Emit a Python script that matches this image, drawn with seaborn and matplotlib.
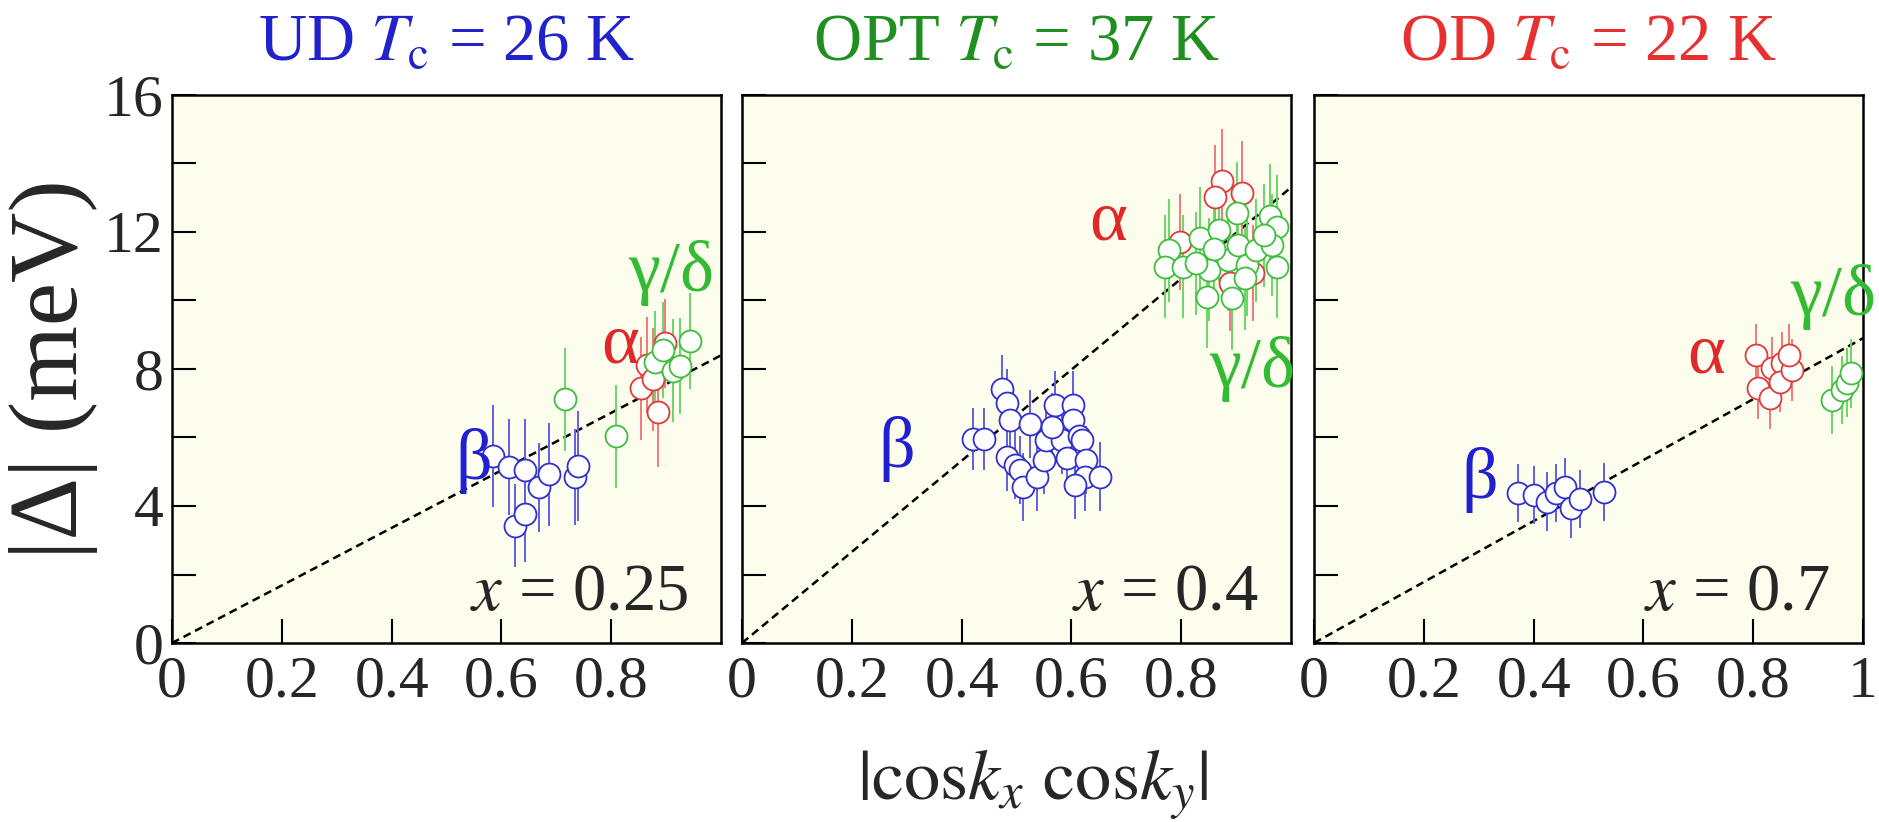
import numpy as np
import pandas as pd
import matplotlib
matplotlib.use('Agg')
import matplotlib.pyplot as plt
import seaborn as sns

# panel data: |cos kx cos ky| vs |gap| (meV)
ud_beta_x = [0.585, 0.613, 0.624, 0.643, 0.643, 0.669, 0.687, 0.734, 0.740]
ud_beta_y = [5.46, 5.13, 3.43, 3.76, 5.05, 4.55, 4.93, 4.84, 5.17]
ud_beta_err = [1.5, 1.4, 1.2, 1.4, 1.5, 1.3, 1.5, 1.4, 1.6]
ud_alpha_x = [0.855, 0.866, 0.876, 0.886, 0.898]
ud_alpha_y = [7.44, 8.12, 7.70, 6.74, 8.75]
ud_alpha_err = [1.5, 1.4, 1.5, 1.6, 1.3]
ud_gd_x = [0.716, 0.809, 0.880, 0.895, 0.912, 0.925, 0.943]
ud_gd_y = [7.12, 6.04, 8.20, 8.55, 7.95, 8.10, 8.83]
ud_gd_err = [1.5, 1.5, 1.5, 1.4, 1.5, 1.4, 1.4]

opt_beta_x = [0.421, 0.440, 0.473, 0.483, 0.488, 0.483, 0.497, 0.506, 0.512, 0.525, 0.538, 0.550, 0.554,
              0.570, 0.582, 0.592, 0.603, 0.603, 0.613, 0.619, 0.627, 0.624, 0.606, 0.652, 0.565]
opt_beta_y = [5.95, 5.95, 7.42, 7.00, 6.50, 5.44, 5.20, 5.05, 4.56, 6.40, 4.86, 5.34, 5.93,
              6.95, 5.93, 5.40, 6.95, 6.50, 6.05, 5.93, 5.34, 4.86, 4.61, 4.86, 6.30]
opt_beta_err = [0.9, 0.9, 1.0, 1.0, 1.0, 1.0, 1.0, 1.0, 1.0, 1.0, 1.0, 1.0, 1.0,
                1.0, 1.0, 1.0, 1.0, 1.0, 1.0, 1.0, 1.0, 1.0, 1.0, 1.0, 1.0]
opt_alpha_x = [0.874, 0.862, 0.910, 0.798, 0.889, 0.930]
opt_alpha_y = [13.50, 13.03, 13.15, 11.72, 10.50, 10.80]
opt_alpha_err = [1.5, 1.5, 1.5, 1.4, 1.4, 1.4]
opt_gd_x = [0.777, 0.771, 0.803, 0.835, 0.850, 0.847, 0.868, 0.901, 0.886, 0.904, 0.892, 0.919, 0.937,
            0.916, 0.962, 0.974, 0.965, 0.974, 0.827, 0.950, 0.860]
opt_gd_y = [11.47, 10.99, 10.99, 11.82, 10.90, 10.11, 12.06, 12.55, 11.18, 11.62, 10.06, 11.04, 11.47,
            10.65, 12.48, 12.15, 11.62, 10.99, 11.09, 11.90, 11.50]
opt_gd_err = [1.5] * 21

od_beta_x = [0.372, 0.400, 0.424, 0.441, 0.457, 0.469, 0.485, 0.528]
od_beta_y = [4.37, 4.32, 4.13, 4.37, 4.56, 3.93, 4.20, 4.40]
od_beta_err = [0.85, 0.85, 0.85, 0.85, 0.85, 0.85, 0.85, 0.85]
od_alpha_x = [0.806, 0.809, 0.831, 0.834, 0.852, 0.849, 0.870, 0.865]
od_alpha_y = [8.41, 7.44, 7.14, 8.02, 8.17, 7.63, 7.97, 8.40]
od_alpha_err = [0.9, 0.9, 0.9, 0.9, 0.9, 0.9, 0.9, 0.9]
od_gd_x = [0.943, 0.961, 0.970, 0.979]
od_gd_y = [7.10, 7.39, 7.60, 7.87]
od_gd_err = [1.0, 1.0, 1.0, 1.0]

slopes = [8.4, 13.3, 8.9]
titles = ['UD $T_{\\rm c}$ = 26 K', 'OPT $T_{\\rm c}$ = 37 K', 'OD $T_{\\rm c}$ = 22 K']
doping_labels = ['$x$ = 0.25', '$x$ = 0.4', '$x$ = 0.7']

sns.set_theme(style='ticks')
plt.rcParams['font.family'] = ['Liberation Serif', 'DejaVu Serif']
plt.rcParams['mathtext.fontset'] = 'stix'

title_colors = ['#2222cc', '#1f8f1f', '#e83030']
beta_c, beta_bar = '#3030cc', '#6060e0'
alpha_c, alpha_bar = '#e03a3a', '#f07a7a'
gd_c, gd_bar = '#3cbf3c', '#6cd46c'

panels = [
    [(ud_beta_x, ud_beta_y, ud_beta_err), (ud_alpha_x, ud_alpha_y, ud_alpha_err), (ud_gd_x, ud_gd_y, ud_gd_err)],
    [(opt_beta_x, opt_beta_y, opt_beta_err), (opt_alpha_x, opt_alpha_y, opt_alpha_err), (opt_gd_x, opt_gd_y, opt_gd_err)],
    [(od_beta_x, od_beta_y, od_beta_err), (od_alpha_x, od_alpha_y, od_alpha_err), (od_gd_x, od_gd_y, od_gd_err)],
]
# label positions (data coords) for beta, alpha, gamma/delta
label_pos = [
    [(0.55, 5.3), (0.817, 8.7), (0.909, 10.8)],
    [(0.281, 5.66), (0.667, 12.3), (0.929, 8.0)],
    [(0.302, 4.76), (0.715, 8.4), (0.945, 10.1)],
]

fig = plt.figure(figsize=(18.79, 8.22), dpi=100)
lefts = [172 / 1879, 742 / 1879, 1314 / 1879]
W, B, H = 549 / 1879, 1 - 643 / 822, 548 / 822

for i in range(3):
    ax = fig.add_axes([lefts[i], B, W, H])
    ax.set_facecolor('#fdfdee')
    ax.plot([0, 1], [0, slopes[i]], color='black', ls=(0, (3.2, 2)), lw=1.8, zorder=1)
    for (xs, ys, es), col, bar in zip(panels[i], [beta_c, alpha_c, gd_c], [beta_bar, alpha_bar, gd_bar]):
        ax.errorbar(xs, ys, yerr=es, fmt='none', ecolor=bar, elinewidth=1.4, capsize=0, zorder=2)
        df = pd.DataFrame({'x': xs, 'y': ys})
        sns.scatterplot(data=df, x='x', y='y', ax=ax, marker='o', s=250, facecolor='white',
                        edgecolor=col, linewidth=1.3, zorder=3)
    for (lx, ly), txt, col in zip(label_pos[i], ['β', 'α', 'γ/δ'], ['#2020d0', '#e02828', '#33bb33']):
        ax.text(lx, ly, txt, color=col, fontsize=52, ha='center', va='center')
    ax.text(0.94, 0.06, doping_labels[i], transform=ax.transAxes, fontsize=48, ha='right', va='baseline')
    ax.text(0.5, 1.064, titles[i], transform=ax.transAxes, fontsize=48, ha='center', va='baseline',
            color=title_colors[i])

    ax.set_xlim(0, 1)
    ax.set_ylim(0, 16)
    ax.set_xticks([0, 0.2, 0.4, 0.6, 0.8, 1.0] if i == 2 else [0, 0.2, 0.4, 0.6, 0.8])
    ax.set_xticklabels(['0', '0.2', '0.4', '0.6', '0.8', '1'] if i == 2 else ['0', '0.2', '0.4', '0.6', '0.8'])
    ax.set_yticks(np.arange(0, 17, 2))
    if i == 0:
        ax.set_yticklabels(['0', '', '4', '', '8', '', '12', '', '16'])
    else:
        ax.set_yticklabels([])
    ax.tick_params(direction='in', length=17, width=1.5, labelsize=43, pad=9, color='black')
    ax.tick_params(axis='y', pad=6)
    ax.set_xlabel('')
    ax.set_ylabel('')
    for sp in ax.spines.values():
        sp.set_linewidth(1.8)
        sp.set_color('black')
    if i == 0:
        ax.set_ylabel('|Δ| (meV)', fontsize=70, labelpad=4)

fig.text(1033 / 1879, 0.045, r'$|{\rm cos}k_x\ {\rm cos}k_y|$', fontsize=52, ha='center', va='center')

fig.savefig('out.png', dpi=100, facecolor='white')
